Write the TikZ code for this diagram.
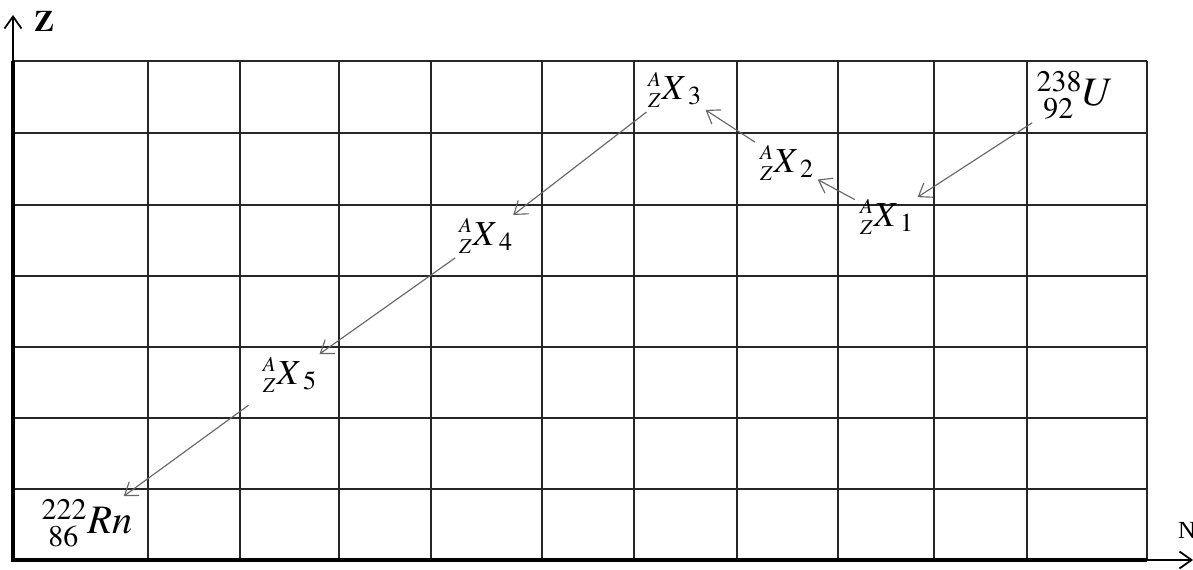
\documentclass[tikz,border=0pt]{standalone}
\usepackage{mathptmx}
\usepackage{fontspec}
\setmainfont{Liberation Serif}
\usetikzlibrary{arrows.meta}

\begin{document}
\begin{tikzpicture}[
        x=0.02cm, y=-0.02cm,
        gridline/.style={draw=black!85, line width=1.2pt},
        axis/.style={draw=black, line width=1pt},
        decay/.style={draw=black!60, line width=0.65pt, ->, shorten <=2pt, shorten >=1pt},
        isotope/.style={inner sep=1pt, font=\fontsize{20}{22}\selectfont},
        nuclide/.style={inner sep=1pt, font=\fontsize{23}{26}\selectfont},
        >={Straight Barb[length=2.4mm, width=3.4mm]}
    ]
        \useasboundingbox (0,0) rectangle (1193,570);

        % grid
        \foreach \gx in {13,148,240,339,431,542,634,737,838,934,1027,1147}
            \draw[gridline] (\gx,61) -- (\gx,560);
        \foreach \gy in {61,133,205,276,347,418,489,560}
            \draw[gridline] (13,\gy) -- (1147,\gy);

        % axes
        \coordinate (origin) at (13,560);
        \coordinate (ztip) at (13,15);
        \coordinate (ntip) at (1193,560);
        \draw[axis, line width=1.8pt] (13,61) -- (origin) -- (1147,560);
        \draw[axis, ->] (origin) -- (ztip);
        \draw[axis, ->] (origin) -- (ntip);
        \node (zlabel) at (44,21) {\fontsize{17}{19}\selectfont$\mathbf{Z}$};
        \node (nlabel) at (1187,530) {\fontsize{14}{16}\selectfont N};

        % chain
        \node[nuclide] (u) at (1075,95) {${}^{238}_{\;92}U$};
        \node[isotope] (x1) at (887,217) {${}^{\scriptscriptstyle A}_{\scriptscriptstyle Z}X_{\;1}$};
        \node[isotope] (x2) at (787,163) {${}^{\scriptscriptstyle A}_{\scriptscriptstyle Z}X_{\;2}$};
        \node[isotope] (x3) at (675,90) {${}^{\scriptscriptstyle A}_{\scriptscriptstyle Z}X_{\;3}$};
        \node[isotope] (x4) at (486,236) {${}^{\scriptscriptstyle A}_{\scriptscriptstyle Z}X_{\;4}$};
        \node[isotope] (x5) at (290,375) {${}^{\scriptscriptstyle A}_{\scriptscriptstyle Z}X_{\;5}$};
        \node[nuclide] (rn) at (87,523) {${}^{222}_{\;86}Rn$};

        \draw[decay] (u) -- (x1);
        \draw[decay] (x1) -- (x2);
        \draw[decay] (x2) -- (x3);
        \draw[decay] (x3) -- (x4);
        \draw[decay] (x4) -- (x5);
        \draw[decay, shorten <=10pt] (x5) -- (rn);
    \end{tikzpicture}
\end{document}
